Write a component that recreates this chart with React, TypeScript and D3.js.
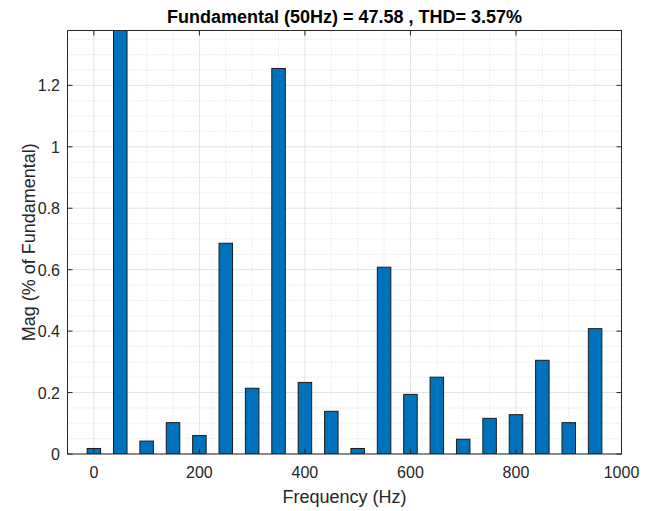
import React from "react";
import * as d3 from "d3";

const freqs = [0, 50, 100, 150, 200, 250, 300, 350, 400, 450, 500, 550, 600, 650, 700, 750, 800, 850, 900, 950];
const mags = [0.018, 100, 0.042, 0.102, 0.060, 0.686, 0.214, 1.255, 0.233, 0.139, 0.018, 0.608, 0.194, 0.25, 0.048, 0.116, 0.128, 0.305, 0.102, 0.408];
const xTicks = [0, 200, 400, 600, 800, 1000];
const yTicks = [0, 0.2, 0.4, 0.6, 0.8, 1, 1.2];
const title = "Fundamental (50Hz) = 47.58 , THD= 3.57%";
const xLabel = "Frequency (Hz)";
const yLabel = "Mag (% of Fundamental)";

const W = 656, H = 511;
const L = 67.5, R = 621.5, T = 30.5, B = 454;

export default function App() {
  const x = d3.scaleLinear().domain([-50, 1000]).range([L, R]);
  const y = d3.scaleLinear().domain([0, 1.3785]).range([B, T]);
  const minorX = d3.range(-50, 1001, 50).filter((v) => !xTicks.includes(v));
  const minorY = d3.range(0, 1.38, 0.05).map((v) => +v.toFixed(2)).filter((v) => !yTicks.some((t) => Math.abs(t - v) < 1e-6));
  const bw = 13.5;
  const font = "'Liberation Sans', Arial, Helvetica, sans-serif";
  const txt = "#262626";
  return (
    <svg width={W} height={H} style={{ position: "absolute", left: 0, top: 0, background: "#fff" }} fontFamily={font}>
      <rect x={0} y={0} width={W} height={H} fill="#fff" />
      <defs>
        <clipPath id="plot">
          <rect x={L} y={T} width={R - L} height={B - T} />
        </clipPath>
      </defs>
      {/* minor grid */}
      {minorX.map((v) => (
        <line key={"mx" + v} x1={x(v)} x2={x(v)} y1={T} y2={B} stroke="#d4d4d4" strokeWidth={0.8} strokeDasharray="1,2" />
      ))}
      {minorY.map((v) => (
        <line key={"my" + v} x1={L} x2={R} y1={y(v)} y2={y(v)} stroke="#d4d4d4" strokeWidth={0.8} strokeDasharray="1,2" />
      ))}
      {/* major grid */}
      {xTicks.map((v) => (
        <line key={"gx" + v} x1={x(v)} x2={x(v)} y1={T} y2={B} stroke="#e3e3e3" strokeWidth={1} />
      ))}
      {yTicks.map((v) => (
        <line key={"gy" + v} x1={L} x2={R} y1={y(v)} y2={y(v)} stroke="#e3e3e3" strokeWidth={1} />
      ))}
      {/* bars */}
      <g clipPath="url(#plot)">
        {freqs.map((f, i) => (
          <rect
            key={"b" + f}
            x={x(f) - bw / 2}
            y={y(mags[i])}
            width={bw}
            height={B - y(mags[i])}
            fill="#0072BD"
            stroke="#1a1a1a"
            strokeWidth={1}
          />
        ))}
      </g>
      {/* box */}
      <rect x={L} y={T} width={R - L} height={B - T} fill="none" stroke={txt} strokeWidth={1} />
      {/* ticks */}
      {xTicks.map((v) => (
        <g key={"tx" + v}>
          <line x1={x(v)} x2={x(v)} y1={B} y2={B - 5} stroke={txt} />
          <line x1={x(v)} x2={x(v)} y1={T} y2={T + 5} stroke={txt} />
          <text x={x(v)} y={478} textAnchor="middle" fontSize={16} fill={txt}>{v}</text>
        </g>
      ))}
      {yTicks.map((v) => (
        <g key={"ty" + v}>
          <line x1={L} x2={L + 5} y1={y(v)} y2={y(v)} stroke={txt} />
          <line x1={R} x2={R - 5} y1={y(v)} y2={y(v)} stroke={txt} />
          <text x={L - 7.5} y={y(v) + 6} textAnchor="end" fontSize={16} fill={txt}>{v}</text>
        </g>
      ))}
      <text x={(L + R) / 2} y={23} textAnchor="middle" fontSize={18} fontWeight="bold" fill="#000">{title}</text>
      <text x={(L + R) / 2} y={503} textAnchor="middle" fontSize={18} fill={txt}>{xLabel}</text>
      <text transform={`translate(35,${(T + B) / 2}) rotate(-90)`} textAnchor="middle" fontSize={18} fill={txt}>{yLabel}</text>
    </svg>
  );
}
